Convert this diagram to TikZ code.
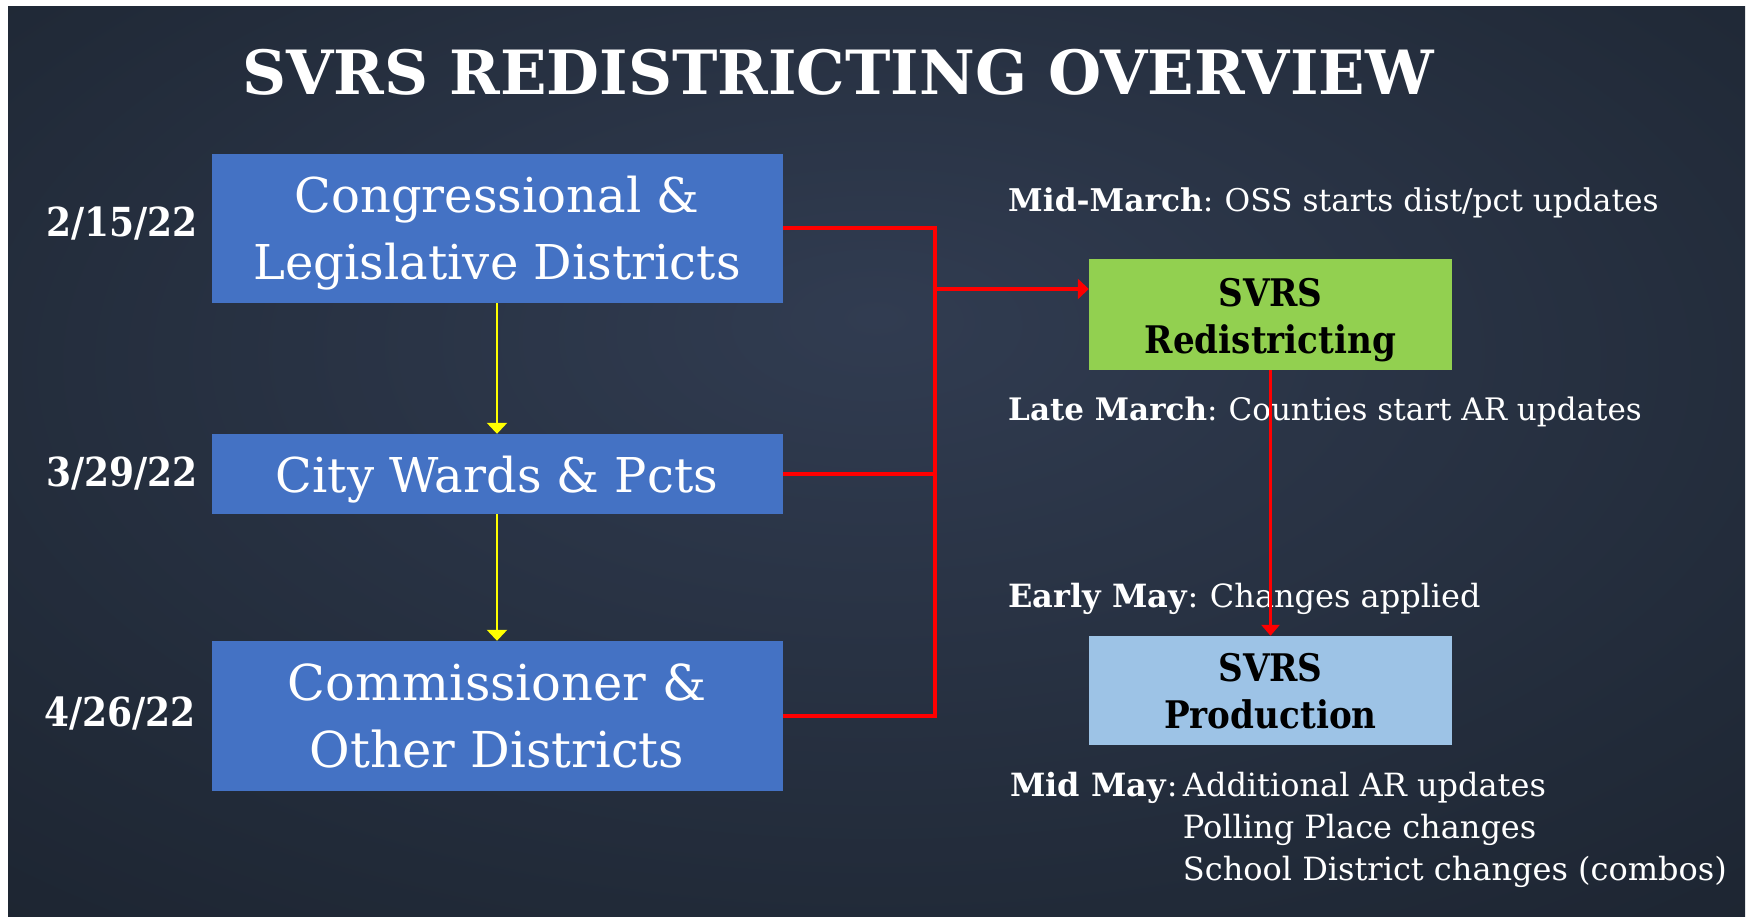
\documentclass[tikz,border=0pt]{standalone}
\usepackage{fontspec}
\setmainfont{DejaVu Serif}
\newfontfamily\narrowfont{DejaVu Serif}[FakeStretch=0.9]
\newfontfamily\datefont{DejaVu Serif}[FakeStretch=0.9]
\usetikzlibrary{arrows.meta}
\definecolor{bgin}{HTML}{313C51}
\definecolor{bgmid}{HTML}{212A38}
\definecolor{bgout}{HTML}{0E1219}
\definecolor{boxblue}{HTML}{4472C4}
\definecolor{boxgreen}{HTML}{92D050}
\definecolor{boxlight}{HTML}{9DC3E6}
\definecolor{linered}{HTML}{FF0000}
\definecolor{lineyellow}{HTML}{FFFF00}
\pgfdeclareradialshading{bgshade}{\pgfpoint{0bp}{8bp}}{color(0bp)=(bgin); color(30bp)=(bgmid); color(72bp)=(bgout)}
\tikzset{
  bluebox/.style={fill=boxblue, draw=none, minimum width=571pt, inner sep=0pt, text=white, align=center, font=\fontsize{48}{67}\selectfont},
  svrsbox/.style={draw=none, minimum width=363pt, inner sep=0pt, text=black, align=center, font=\narrowfont\bfseries\fontsize{38}{47}\selectfont},
  datelbl/.style={text=white, inner sep=0pt, anchor=west, font=\datefont\bfseries\fontsize{40}{42}\selectfont},
  note/.style={text=white, inner sep=0pt, anchor=west, font=\fontsize{32}{42}\selectfont},
  redline/.style={draw=linered, line width=4pt},
  yellowarrow/.style={draw=lineyellow, line width=2.5pt, -{Triangle[length=11pt,width=20pt]}},
}
\begin{document}
\begin{tikzpicture}[x=1pt,y=-1pt]
\useasboundingbox (0,0) rectangle (1746,917);
\fill[white] (0,0) rectangle (1746,917);
\path[shading=bgshade] (8,7) rectangle (1745,917);

\node[text=white, inner sep=0pt, font=\bfseries\fontsize{61}{70}\selectfont] (title) at (838,72) {SVRS REDISTRICTING OVERVIEW};

\node[bluebox, minimum height=149pt] (b1) at (497,228.5) {\rule{0pt}{46pt}Congressional \&\\Legislative Districts};
\node[bluebox, minimum height=80pt] (b2) at (497,474) {\rule{0pt}{48pt}City Wards \& Pcts};
\node[bluebox, minimum height=150pt, font=\fontsize{49.5}{67}\selectfont] (b3) at (497,716) {Commissioner \&\\Other Districts};

\node[datelbl] (d1) at (46,224) {2/15/22};
\node[datelbl] (d2) at (46,474) {3/29/22};
\node[datelbl] (d3) at (44,714) {4/26/22};

\node[svrsbox, fill=boxgreen, minimum height=111pt] (g) at (1270.5,314.5) {\rule{0pt}{39pt}SVRS\\Redistricting};
\node[svrsbox, fill=boxlight, minimum height=109pt] (p) at (1270.5,690.5) {\rule{0pt}{30pt}SVRS\\Production};

\node[note, font=\fontsize{31.3}{42}\selectfont] (n1) at (1008,203) {\textbf{Mid-March}:\hspace{-2pt} OSS starts dist/pct updates};
\node[note, font=\fontsize{31}{42}\selectfont] (n2) at (1008,412) {\textbf{Late March}:\hspace{-2pt} Counties start AR updates};
\node[note] (n3) at (1008,599) {\textbf{Early May}:\hspace{-2pt} Changes applied};
\node[note, anchor=north west] (n4) at (1010,766.5) {\begin{tabular}{@{}l@{\,}l@{}}\textbf{Mid May}: & Additional AR updates\\ & Polling Place changes\\ & School District changes (combos)\end{tabular}};

\coordinate (jtop) at (935,228.5);
\coordinate (jbot) at (935,716);
\coordinate (jarr) at (935,289);
\draw[redline] (b1.east) -- (jtop) -- (jbot) -- (b3.east);
\draw[redline] (b2.east) -- (b2.east -| jtop);
\draw[redline, -{Triangle[length=11pt,width=20pt]}] (jarr) -- (jarr -| g.west);
\draw[draw=linered, line width=3pt, -{Triangle[length=11pt,width=18pt]}] (g.south) -- (p.north);

\draw[yellowarrow] (b1.south) -- (b2.north);
\draw[yellowarrow] (b2.south) -- (b3.north);
\end{tikzpicture}
\end{document}
